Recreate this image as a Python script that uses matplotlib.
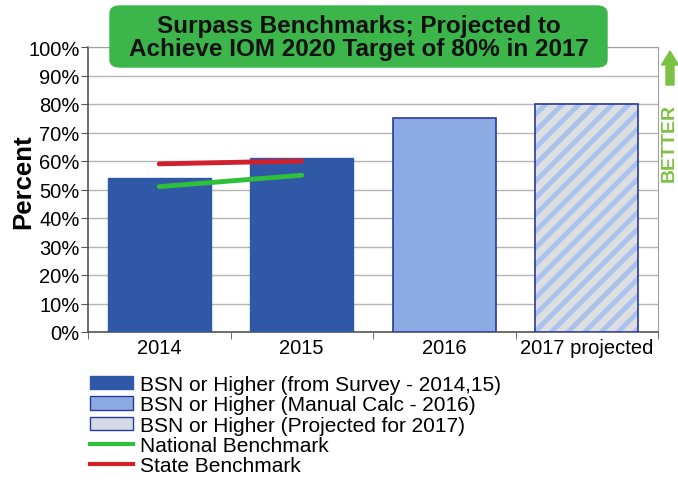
import matplotlib
matplotlib.use("Agg")
import matplotlib.pyplot as plt
import matplotlib.patches as mpatches
from matplotlib.lines import Line2D
import numpy as np

plt.rcParams['font.family'] = ['Liberation Sans', 'DejaVu Sans']

categories = ["2014", "2015", "2016", "2017 projected"]
survey_vals = [54, 61]          # 2014, 2015
manual_val = [75]               # 2016
projected_val = [80]            # 2017
national_bench = [51, 55]       # 2014 -> 2015
state_bench = [59, 60]          # 2014 -> 2015
yticks = list(range(0, 101, 10))

title_text = "Surpass Benchmarks; Projected to\nAchieve IOM 2020 Target of 80% in 2017"
legend_labels = ["BSN or Higher (from Survey - 2014,15)",
                 "BSN or Higher (Manual Calc - 2016)",
                 "BSN or Higher (Projected for 2017)",
                 "National Benchmark",
                 "State Benchmark"]

dark_blue = "#2f58a6"
mid_blue = "#8dabe3"
edge_blue = "#27399a"
stripe_blue = "#a9c2ee"
green = "#2fbf3a"
red = "#d0202e"

W, H = 678, 481
fig = plt.figure(figsize=(W/100, H/100), dpi=100)
ax = fig.add_axes([88/W, 1-333/H, (658-88)/W, (333-48)/H])

x = np.arange(len(categories))
bw = 0.72
ax.bar(x[:2], survey_vals, width=bw, color=dark_blue, edgecolor=dark_blue, zorder=3)
ax.bar(x[2:3], manual_val, width=bw, color=mid_blue, edgecolor=edge_blue, linewidth=1.2, zorder=3)
plt.rcParams['hatch.linewidth'] = 3.5
ax.bar(x[3:4], projected_val, width=bw, color="#dcdedf", edgecolor=stripe_blue,
       linewidth=0, hatch="//", zorder=3)
ax.bar(x[3:4], projected_val, width=bw, color="none", edgecolor=edge_blue, linewidth=1.2, zorder=4)

ax.plot(x[:2], national_bench, color=green, linewidth=3.5, solid_capstyle='round', zorder=5)
ax.plot(x[:2], state_bench, color=red, linewidth=3.5, solid_capstyle='round', zorder=5)

ax.set_xlim(-0.5, 3.5)
ax.set_ylim(0, 100)
ax.set_yticks(yticks)
ax.set_yticklabels([f"{v}%" for v in yticks], fontsize=14.5)
ax.set_xticks(x)
ax.set_xticklabels(categories, fontsize=14.5)
ax.set_xticks(np.arange(-0.5, 3.6, 1.0), minor=True)
ax.tick_params(axis='x', which='major', length=0, pad=4)
ax.tick_params(axis='x', which='minor', length=5, color="#555555")
ax.tick_params(axis='y', length=5, color="#555555", pad=1)
ax.grid(axis='y', color="#b5b5b5", linewidth=1, zorder=0)
for s in ['left', 'bottom']:
    ax.spines[s].set_color("#555555")
    ax.spines[s].set_linewidth(1.2)
for s in ['right', 'top']:
    ax.spines[s].set_color("#a0a0a0")
ax.set_ylabel("Percent", fontsize=18.5, fontweight='bold')
ax.yaxis.set_label_coords(-0.093, 0.53)

# title box
box = mpatches.FancyBboxPatch((110/W, 1-68/H), (607-110)/W, (68-7)/H,
                              boxstyle="round,pad=0,rounding_size=0.015",
                              transform=fig.transFigure, facecolor="#3cb54a",
                              edgecolor="#3cb54a", zorder=10)
fig.add_artist(box)
fig.text((110+607)/2/W, 1-38/H, title_text, ha='center', va='center',
         fontsize=17.5, fontweight='bold', color="#111111", linespacing=1.05, zorder=11)

# BETTER arrow
arrow = mpatches.FancyArrow(670/W, 1-86/H, 0, 34/H, width=8/W, head_width=17/W,
                            head_length=14/H, transform=fig.transFigure,
                            color="#7cc242", length_includes_head=True)
fig.add_artist(arrow)
fig.text(661/W, 1-143/H, "BETTER", rotation=90, ha='left', va='center',
         fontsize=14, fontweight='bold', color="#7cc242")

# legend
handles = [mpatches.Patch(facecolor=dark_blue, edgecolor=dark_blue),
           mpatches.Patch(facecolor=mid_blue, edgecolor=edge_blue),
           mpatches.Patch(facecolor="#d4dbe6", edgecolor=edge_blue),
           Line2D([0], [0], color=green, linewidth=3),
           Line2D([0], [0], color=red, linewidth=3)]
fig.legend(handles, legend_labels, loc='upper left', bbox_to_anchor=(90/W, 1-376/H),
           frameon=False, fontsize=15, handlelength=2.06, handleheight=0.6,
           handletextpad=0.33, labelspacing=0.06, borderpad=0, borderaxespad=0)

fig.savefig("out.png", dpi=100)
